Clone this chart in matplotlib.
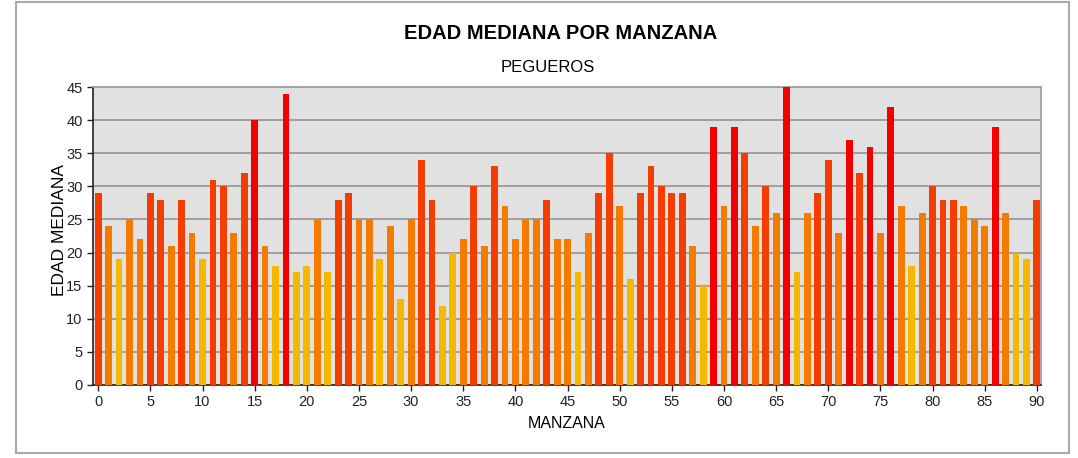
import matplotlib
matplotlib.use("Agg")
import matplotlib.pyplot as plt
from matplotlib.patches import Rectangle

plt.rcParams['font.family'] = ['Liberation Sans', 'DejaVu Sans']

# edad mediana por manzana 0..90
manzanas = list(range(91))
edades = [29, 24, 19, 25, 22, 29, 28, 21, 28, 23,
          19, 31, 30, 23, 32, 40, 21, 18, 44, 17,
          18, 25, 17, 28, 29, 25, 25, 19, 24, 13,
          25, 34, 28, 12, 20, 22, 30, 21, 33, 27,
          22, 25, 25, 28, 22, 22, 17, 23, 29, 35,
          27, 16, 29, 33, 30, 29, 29, 21, 15, 39,
          27, 39, 35, 24, 30, 26, 45, 17, 26, 29,
          34, 23, 37, 32, 36, 23, 42, 27, 18, 26,
          30, 28, 28, 27, 25, 24, 39, 26, 20, 19,
          28]


def color_edad(v):
    if v <= 20:
        return '#F5B800'
    if v <= 27:
        return '#F57A00'
    if v <= 35:
        return '#F53D00'
    return '#F50000'


colores = [color_edad(v) for v in edades]

fig = plt.figure(figsize=(10.78, 4.58), dpi=100)
ax = fig.add_axes([0.0863, 0.1594, 0.8794, 0.6506])
ax.set_facecolor('#E1E1E1')

ax.bar(manzanas, edades, width=0.65, color=colores, zorder=3)

ax.set_xlim(-0.5, 90.4)
ax.set_ylim(0, 45)
ax.set_xticks(range(0, 91, 5))
ax.set_yticks(range(0, 46, 5))
ax.yaxis.grid(True, color='#999999', linewidth=1.3, zorder=1)
ax.tick_params(labelsize=10.5, length=4, width=1, colors='#222222')
for s in ['top', 'right']:
    ax.spines[s].set_color('#A0A0A0')
    ax.spines[s].set_linewidth(1.3)
for s in ['left', 'bottom']:
    ax.spines[s].set_color('#222222')
    ax.spines[s].set_linewidth(1.2)

ax.set_xlabel('MANZANA', fontsize=11.5, labelpad=5)
ax.set_ylabel('EDAD MEDIANA', fontsize=12.5)
ax.yaxis.set_label_coords(-0.027, 0.52)

fig.text(0.52, 0.927, 'EDAD MEDIANA POR MANZANA', ha='center', va='center',
         fontsize=14.5, fontweight='bold')
fig.text(0.508, 0.852, 'PEGUEROS', ha='center', va='center', fontsize=12)

fig.patches.append(Rectangle((0.0145, 0.012), 0.977, 0.984, transform=fig.transFigure,
                             fill=False, edgecolor='#AAAAAA', linewidth=1.5))

fig.savefig('out.png', dpi=100)
